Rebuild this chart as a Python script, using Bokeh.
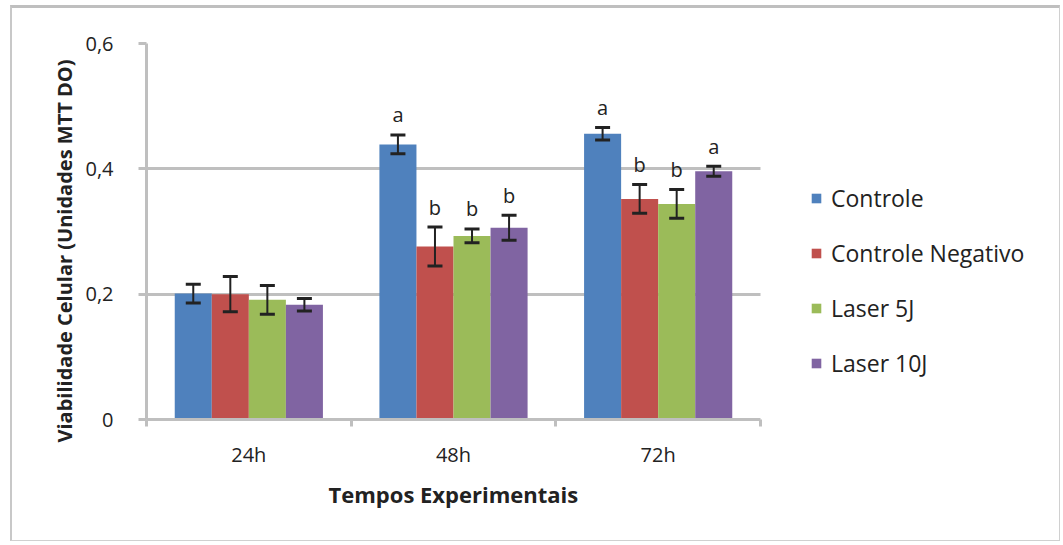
from bokeh.plotting import figure
from bokeh.models import (ColumnDataSource, Range1d, FixedTicker, Whisker, TeeHead,
                          Legend, LegendItem, Title)
from bokeh.core.properties import value
from bokeh.embed import file_html
from bokeh.resources import INLINE

# ---- data ----
times = ["24h", "48h", "72h"]
series = ["Controle", "Controle Negativo", "Laser 5J", "Laser 10J"]
controle = [0.201, 0.439, 0.456]
controle_err = [0.015, 0.015, 0.010]
negativo = [0.200, 0.276, 0.352]
negativo_err = [0.028, 0.031, 0.023]
laser5 = [0.191, 0.293, 0.344]
laser5_err = [0.023, 0.011, 0.023]
laser10 = [0.183, 0.306, 0.396]
laser10_err = [0.010, 0.020, 0.008]
letters_controle = ["", "a", "a"]
letters_negativo = ["", "b", "b"]
letters_laser5 = ["", "b", "b"]
letters_laser10 = ["", "b", "a"]
y_ticks = [0, 0.2, 0.4, 0.6]
y_tick_labels = ["0", "0,2", "0,4", "0,6"]

colors = ["#4f81bd", "#c0504d", "#9bbb59", "#8064a2"]
vals = [controle, negativo, laser5, laser10]
errs = [controle_err, negativo_err, laser5_err, laser10_err]
lets = [letters_controle, letters_negativo, letters_laser5, letters_laser10]

FONT = "Open Sans"
GRAY = "#bfbfbf"
TXT = "#222222"

# the frame is widened to the right so that the legend can live inside it;
# the data area (axis + grid) is bounded to the categories only
n = len(times)
plot_px = 614.0
frame_px = 1050 - 134 - 2
x_end = n * frame_px / plot_px

p = figure(width=1050, height=536, output_backend="svg", toolbar_location=None,
           x_range=Range1d(0, x_end), y_range=Range1d(0, 0.6),
           min_border_left=134, min_border_right=2, min_border_top=35,
           min_border_bottom=125, outline_line_color=None,
           background_fill_color="white", border_fill_color="white",
           styles={"position": "absolute", "left": "10px", "top": "5px",
                   "border": "1px solid #d0d0d0", "border-top": "3px solid #bfbfbf",
                   "border-left": "2px solid #c8c8c8"})

bw = 0.181
offsets = [-1.5 * bw, -0.5 * bw, 0.5 * bw, 1.5 * bw]
items = []
for j, name in enumerate(series):
    xs = [i + 0.5 + offsets[j] for i in range(n)]
    src = ColumnDataSource(dict(
        x=xs, top=vals[j],
        upper=[v + e for v, e in zip(vals[j], errs[j])],
        lower=[v - e for v, e in zip(vals[j], errs[j])],
        lab=lets[j]))
    r = p.vbar(x="x", top="top", width=bw, source=src, fill_color=colors[j],
               line_color=None)
    items.append(LegendItem(label=name, renderers=[r]))
    w = Whisker(base="x", upper="upper", lower="lower", source=src, dimension="height",
                line_color=TXT, line_width=2, level="annotation",
                upper_head=TeeHead(size=15, line_color=TXT, line_width=3),
                lower_head=TeeHead(size=15, line_color=TXT, line_width=3))
    p.add_layout(w)
    p.text(x="x", y="upper", text="lab", source=src, text_align="center",
           text_baseline="middle", y_offset=-20, text_font=value(FONT),
           text_font_size="20px", text_color=TXT)

# grid
p.xgrid.visible = False
p.ygrid.ticker = FixedTicker(ticks=[0.2, 0.4, 0.6])
p.ygrid.grid_line_color = GRAY
p.ygrid.grid_line_width = 3
p.ygrid.cross_bounds = (0, n)

# y axis
ya = p.yaxis[0]
ya.ticker = FixedTicker(ticks=y_ticks)
ya.major_label_overrides = {t: l for t, l in zip(y_ticks, y_tick_labels)}
ya.axis_line_color = GRAY
ya.axis_line_width = 3
ya.major_tick_line_color = GRAY
ya.major_tick_line_width = 3
ya.major_tick_out = 8
ya.major_tick_in = 0
ya.minor_tick_line_color = None
ya.major_label_standoff = 25
ya.major_label_text_font = FONT
ya.major_label_text_font_size = "20px"
ya.major_label_text_color = TXT

# x axis
xa = p.xaxis[0]
centers = [i + 0.5 for i in range(n)]
xa.bounds = (0, n)
xa.ticker = FixedTicker(ticks=centers, minor_ticks=list(range(n + 1)))
xa.major_label_overrides = {c: t for c, t in zip(centers, times)}
xa.axis_line_color = GRAY
xa.axis_line_width = 3
xa.major_tick_line_color = None
xa.major_tick_out = 0
xa.major_tick_in = 0
xa.minor_tick_line_color = GRAY
xa.minor_tick_line_width = 3
xa.minor_tick_out = 7
xa.minor_tick_in = 0
xa.major_label_standoff = 14
xa.major_label_text_font = FONT
xa.major_label_text_font_size = "20px"
xa.major_label_text_color = TXT

# x title, placed under the categories (not the widened frame)
xt = Title(text="Tempos Experimentais", align="left", offset=182,
           text_font=FONT, text_font_style="bold", text_font_size="22px",
           text_color=TXT, standoff=13)
p.add_layout(xt, "below")

# y title, started near the bottom of the axis like the reference
yt = Title(text="Viabilidade Celular (Unidades MTT DO)", align="left", offset=-23,
           text_font=FONT, text_font_style="bold", text_font_size="20px",
           text_color=TXT, standoff=10)
p.add_layout(yt, "left")

legend = Legend(items=items, location=(664, 40), label_text_font=FONT,
                label_text_font_size="23px", label_text_color=TXT,
                glyph_width=12, glyph_height=12, label_height=24, spacing=23,
                label_standoff=9, padding=0, margin=0, border_line_color=None,
                background_fill_alpha=0)
p.add_layout(legend, "center")

open("out.html", "w").write(file_html(p, INLINE))
